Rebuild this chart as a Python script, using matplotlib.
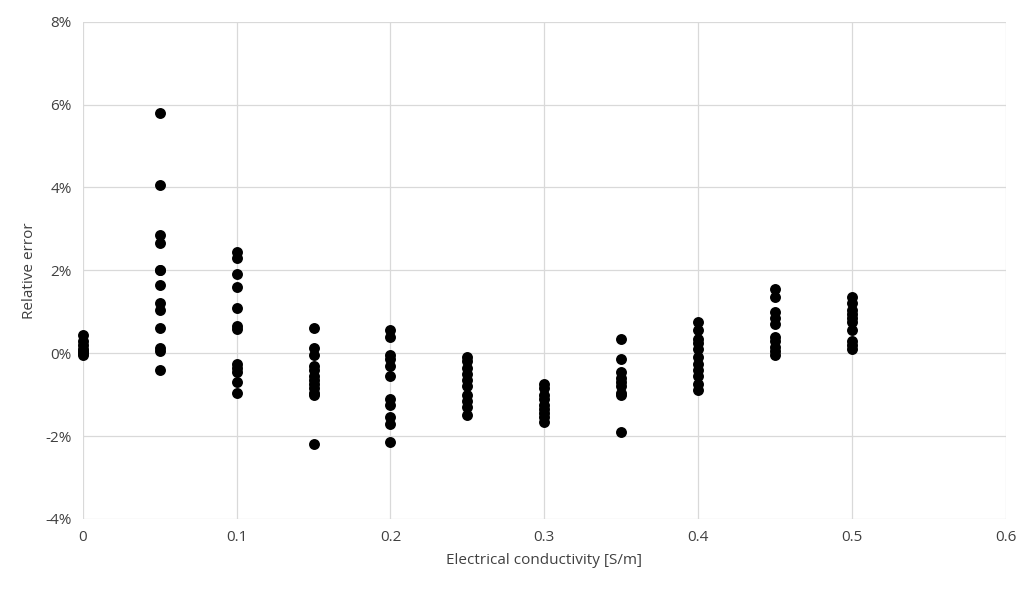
import matplotlib.pyplot as plt
from matplotlib.ticker import FuncFormatter

plt.rcParams['font.family'] = ['Open Sans', 'DejaVu Sans']

# relative error (%) per conductivity level
x_levels = [0.0, 0.05, 0.1, 0.15, 0.2, 0.25, 0.3, 0.35, 0.4, 0.45, 0.5]
err_000 = [0.45, 0.3, 0.2, 0.1, 0.05, 0.0, -0.05]
err_005 = [5.8, 4.05, 2.85, 2.65, 2.0, 2.0, 1.65, 1.2, 1.05, 0.6, 0.12, 0.05, -0.4]
err_010 = [2.45, 2.3, 1.9, 1.6, 1.1, 0.65, 0.58, -0.25, -0.35, -0.45, -0.7, -0.95]
err_015 = [0.6, 0.12, -0.05, -0.3, -0.4, -0.55, -0.65, -0.75, -0.85, -0.95, -1.0, -2.2]
err_020 = [0.55, 0.4, -0.05, -0.15, -0.3, -0.55, -1.1, -1.25, -1.55, -1.7, -2.15]
err_025 = [-0.1, -0.2, -0.35, -0.5, -0.65, -0.8, -1.0, -1.15, -1.3, -1.5]
err_030 = [-0.75, -0.85, -1.0, -1.1, -1.25, -1.35, -1.45, -1.55, -1.65]
err_035 = [0.35, -0.15, -0.45, -0.6, -0.7, -0.8, -0.95, -1.0, -1.9]
err_040 = [0.75, 0.55, 0.35, 0.25, 0.1, -0.1, -0.25, -0.4, -0.55, -0.75, -0.9]
err_045 = [1.55, 1.35, 1.0, 0.85, 0.7, 0.4, 0.3, 0.15, 0.05, -0.05]
err_050 = [1.35, 1.2, 1.05, 0.95, 0.85, 0.75, 0.55, 0.3, 0.2, 0.1]

groups = [err_000, err_005, err_010, err_015, err_020, err_025,
          err_030, err_035, err_040, err_045, err_050]

fig = plt.figure(figsize=(10.24, 5.89), dpi=100)
ax = fig.add_axes([0.081, 0.119, 0.901, 0.844])

for xv, ys in zip(x_levels, groups):
    ax.scatter([xv] * len(ys), [y / 100 for y in ys], s=62, color='black',
               zorder=3, linewidths=0, clip_on=False)

ax.set_xlim(0, 0.6)
ax.set_ylim(-0.04, 0.08)
ax.set_xticks([0, 0.1, 0.2, 0.3, 0.4, 0.5, 0.6])
ax.set_xticklabels(['0', '0.1', '0.2', '0.3', '0.4', '0.5', '0.6'])
ax.set_yticks([-0.04, -0.02, 0, 0.02, 0.04, 0.06, 0.08])
ax.yaxis.set_major_formatter(FuncFormatter(lambda v, p: f'{v*100:.0f}%'))

ax.grid(True, color='#d9d9d9', linewidth=0.9)
ax.set_axisbelow(True)
for s in ax.spines.values():
    s.set_visible(False)
ax.tick_params(length=0, labelsize=11, colors='#404040', pad=8)

ax.set_xlabel('Electrical conductivity [S/m]', fontsize=11, color='#404040', labelpad=6)
ax.set_ylabel('Relative error', fontsize=11, color='#404040', labelpad=6)

fig.savefig('out.png', dpi=100)
